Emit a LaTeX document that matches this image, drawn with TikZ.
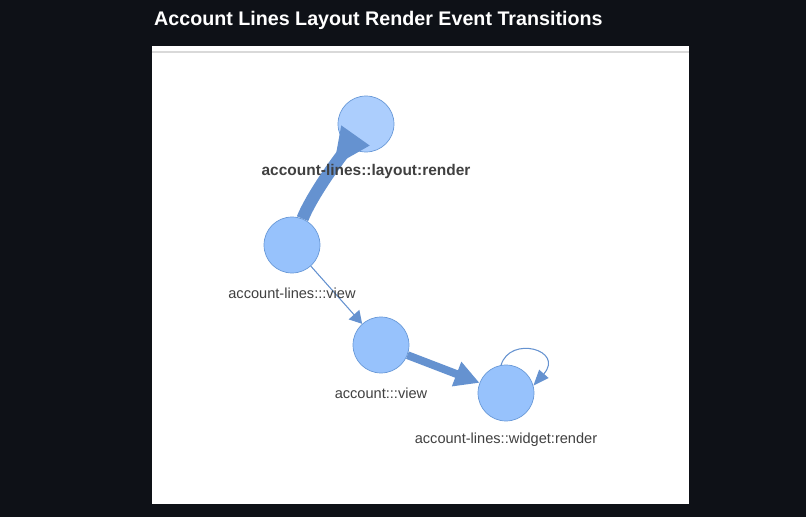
\documentclass[tikz,border=0pt]{standalone}
\usepackage{fontspec}
\setmainfont{Liberation Sans}
\usetikzlibrary{arrows.meta,decorations.markings}
\definecolor{pagebg}{HTML}{0E1117}
\definecolor{nodefill}{HTML}{97C2FC}
\definecolor{nodeline}{HTML}{6A9AD8}
\definecolor{edgecol}{HTML}{6592D0}
\begin{document}
\begin{tikzpicture}[x=0.02cm,y=-0.02cm,
    state/.style={circle, draw=nodeline, fill=nodefill, minimum size=1.12cm, inner sep=0pt},
    lbl/.style={font=\fontsize{8.3}{10}\selectfont, text=black!75},
    flow/.style={draw=edgecol, -{Triangle[length=7pt,width=8pt]}}
]
\fill[pagebg] (0,0) rectangle (806,517);
\fill[white] (152,46) rectangle (689,504);
\draw[black!15, line width=1pt] (152,52) -- (689,52);
\node[anchor=west, text=white, font=\fontsize{11.2}{13}\selectfont\bfseries] (title) at (148,20) {Account Lines Layout Render Event Transitions};

\node[state, fill=nodefill!80!white] (layout) at (366,124) {};
\node[state] (lview) at (292,245) {};
\node[state] (aview) at (381,345) {};
\node[state] (widget) at (506,393) {};

% edges
\draw[draw=edgecol, line width=7pt,
    postaction={decorate, decoration={markings, mark=at position 0.3 with {\arrow[edgecol]{Triangle[length=22pt,width=18pt]}}}}]
    (layout) .. controls (330,170) and (310,200) .. (lview);
\draw[flow, line width=0.6pt] (lview) -- (aview);
\draw[flow, line width=4.5pt, -{Triangle[length=14pt,width=14pt]}] (aview) -- (widget);
\draw[flow, line width=0.6pt, -{Triangle[length=9pt,width=7pt]}] (widget.100) .. controls (510,335) and (565,350) .. (widget.15);

\node[lbl, font=\fontsize{8.8}{10}\selectfont\bfseries] (layoutlbl) at (366,172) {account-lines::layout:render};
\node[lbl] (lviewlbl) at (292,293) {account-lines:::view};
\node[lbl] (aviewlbl) at (381,393) {account:::view};
\node[lbl] (widgetlbl) at (506,440) {account-lines::widget:render};
\end{tikzpicture}
\end{document}
